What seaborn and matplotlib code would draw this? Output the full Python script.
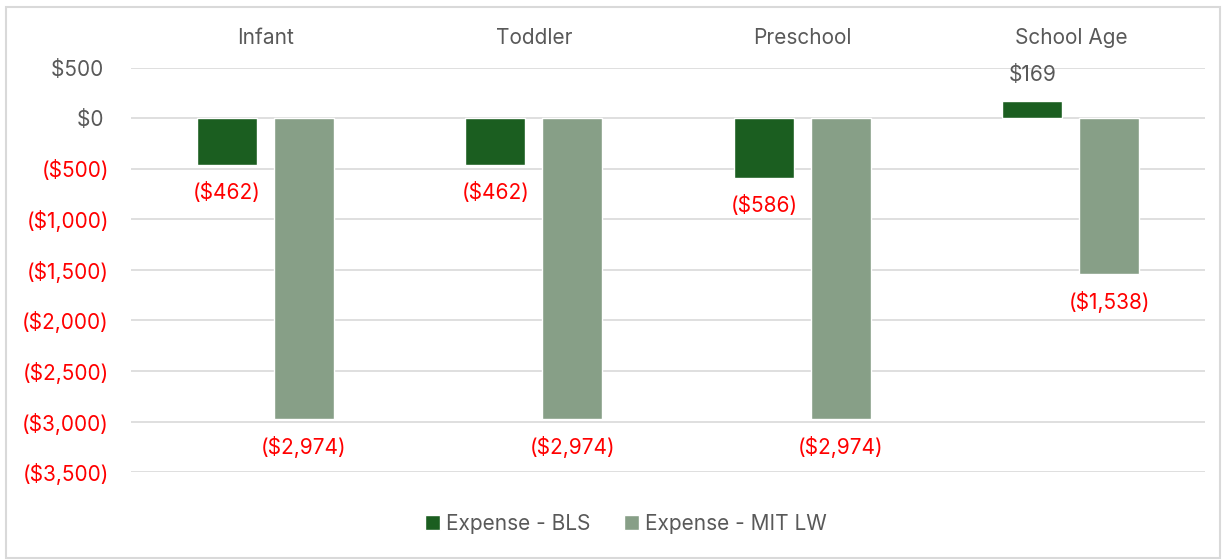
import pandas as pd
import seaborn as sns
import matplotlib.pyplot as plt
from matplotlib.patches import Rectangle
from matplotlib.ticker import FuncFormatter

categories = ["Infant", "Toddler", "Preschool", "School Age"]
bls = [-462, -462, -586, 169]
mit = [-2974, -2974, -2974, -1538]
series = ["Expense - BLS", "Expense - MIT LW"]
colors = ["#1B5E20", "#879F87"]

df = pd.DataFrame({
    "group": categories * 2,
    "value": bls + mit,
    "series": [series[0]] * 4 + [series[1]] * 4,
})

sns.set_style("white")
plt.rcParams["font.family"] = ["Inter", "DejaVu Sans"]

grey = "#595959"
red = "#FF0000"
fs = 15


def money(v):
    if v < 0:
        return "(${:,.0f})".format(-v)
    return "${:,.0f}".format(v)


fig = plt.figure(figsize=(12.26, 5.6), dpi=100)
ax = fig.add_axes([0.107, 0.157, 0.876, 0.722])

sns.barplot(data=df, x="group", y="value", hue="series", palette=colors,
            width=0.573, gap=0.22, saturation=1, ax=ax, legend=True)

ax.set_ylim(-3500, 500)
ax.set_yticks(range(-3500, 501, 500))
# excel style: positive numbers keep a trailing space to line up with ")"
ax.yaxis.set_major_formatter(FuncFormatter(lambda v, p: money(v) if v < 0 else money(v) + " "))
ax.grid(axis="y", color="#D9D9D9", linewidth=1.2)
ax.set_axisbelow(True)
for s in ax.spines.values():
    s.set_visible(False)

ax.xaxis.tick_top()
ax.tick_params(axis="x", length=0, pad=14, labelsize=fs, labelcolor=grey)
ax.tick_params(axis="y", length=0, pad=16, labelsize=fs)
for lab in ax.get_yticklabels():
    txt = lab.get_text()
    lab.set_color(red if txt.startswith("(") else grey)
ax.set_xlabel("")
ax.set_ylabel("")

# data labels
for cont in ax.containers:
    for bar in cont:
        h = bar.get_height()
        cx = bar.get_x() + bar.get_width() / 2
        if h < 0:
            ax.annotate(money(h), (cx, h), xytext=(0, -20), textcoords="offset points",
                        ha="center", va="center", fontsize=fs, color=red)
        else:
            ax.annotate(money(h), (cx, h), xytext=(0, 19), textcoords="offset points",
                        ha="center", va="center", fontsize=fs, color=grey)

leg = ax.legend(loc="center", ncol=2, frameon=False, fontsize=fs,
                handlelength=0.7, handleheight=0.7, handletextpad=0.3,
                columnspacing=1.6)
leg.set_bbox_to_anchor((626 / 1226, 1 - 524 / 560), transform=fig.transFigure)
for t in leg.get_texts():
    t.set_color(grey)

fig.patches.append(Rectangle((6 / 1226, 2 / 560), 1 - 12 / 1226, 1 - 9 / 560,
                             transform=fig.transFigure, fill=False,
                             edgecolor="#D9D9D9", linewidth=1.5))

fig.savefig("out.png", dpi=100)
